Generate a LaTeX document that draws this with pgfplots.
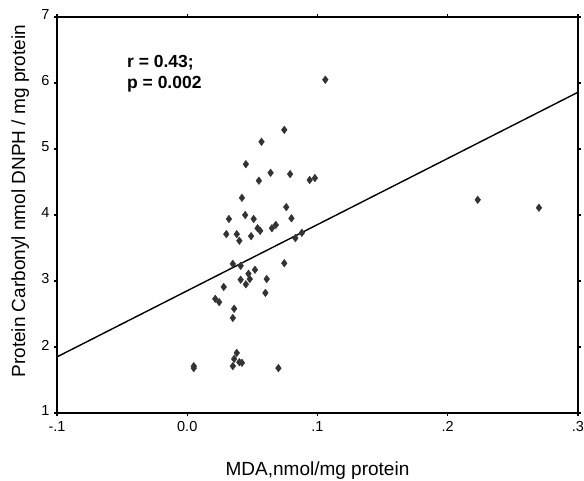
\documentclass[border=0pt]{standalone}
\usepackage{pgfplots}
\pgfplotsset{compat=1.18}
\usepackage{fontspec}
\setmainfont{Liberation Sans}

\begin{document}
\begin{tikzpicture}
\begin{axis}[
  scale only axis, width=521pt, height=396pt,
  xmin=-0.1, xmax=0.3, ymin=1, ymax=7,
  xtick={-0.1,0,0.1,0.2,0.3},
  xticklabels={-.1,0.0,.1,.2,.3},
  ytick={1,2,3,4,5,6,7},
  tick align=outside, major tick length=3pt,
  every tick/.style={black, line width=1.3pt},
  axis line style={line width=1.1pt},
  tick label style={font=\fontsize{14.5}{16}\selectfont},
  xticklabel style={yshift=-2pt},
  yticklabel style={xshift=-1pt, yshift=2pt},
  /pgf/number format/assume math mode=true,
  xlabel={MDA,nmol/mg protein},
  ylabel={Protein Carbonyl nmol DNPH / mg protein},
  label style={font=\fontsize{19}{22}\selectfont},
  xlabel style={at={(axis description cs:0.5,0)}, anchor=base, yshift=-62pt},
  ylabel style={at={(axis description cs:-0.0614,0.535)}, anchor=base},
  clip=false,
]
\addplot[only marks, mark=diamond*, mark size=3.8pt,
  mark options={fill=black!80, draw=black!80}] coordinates {
(0.106,6.05) (0.0745,5.29) (0.057,5.11) (0.045,4.77) (0.064,4.64)
(0.055,4.52) (0.079,4.62) (0.094,4.53) (0.098,4.56) (0.042,4.26)
(0.076,4.12) (0.032,3.94) (0.0445,4.00) (0.051,3.94) (0.080,3.95)
(0.054,3.80) (0.056,3.76) (0.065,3.80) (0.068,3.85) (0.030,3.71)
(0.038,3.71) (0.049,3.68) (0.088,3.73) (0.083,3.65) (0.040,3.61)
(0.035,3.26) (0.041,3.23) (0.0745,3.27) (0.052,3.17) (0.047,3.11)
(0.041,3.02) (0.048,3.03) (0.045,2.95) (0.061,3.03) (0.028,2.91)
(0.060,2.82) (0.0215,2.73) (0.0245,2.68) (0.036,2.58) (0.035,2.44)
(0.038,1.91) (0.036,1.82) (0.040,1.77) (0.042,1.76) (0.035,1.71)
(0.005,1.71) (0.005,1.68) (0.070,1.68) (0.223,4.23) (0.270,4.11)
};
% regression line
\addplot[black, line width=1.4pt] coordinates {(-0.1,1.85) (0.3,5.86)};
\node[anchor=base west, font=\bfseries\fontsize{17.5}{20}\selectfont,
  inner sep=0pt] at (axis cs:-0.0463,6.24) {r = 0.43;};
\node[anchor=base west, font=\bfseries\fontsize{17.5}{20}\selectfont,
  inner sep=0pt] at (axis cs:-0.0463,5.92) {p = 0.002};
\end{axis}
\pgfresetboundingbox
\path[use as bounding box] (-57pt,-67pt) rectangle (527pt,413pt);
\end{tikzpicture}
\end{document}
